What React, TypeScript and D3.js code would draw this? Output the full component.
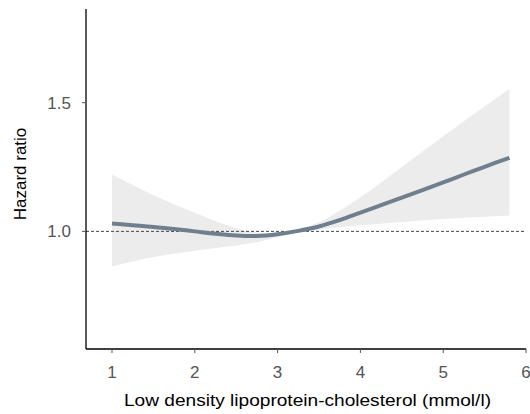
import React from "react";
import * as d3 from "d3";

const ldl = [1.0, 1.25, 1.5, 1.75, 2.0, 2.25, 2.5, 2.75, 3.0, 3.25, 3.5, 3.75, 4.0, 4.25, 4.5, 4.75, 5.0, 5.25, 5.5, 5.8];
const hr = [1.031, 1.024, 1.017, 1.009, 1.0, 0.991, 0.984, 0.982, 0.989, 1.002, 1.019, 1.044, 1.073, 1.102, 1.131, 1.16, 1.19, 1.221, 1.251, 1.286];
const upper = [1.221, 1.18, 1.14, 1.105, 1.072, 1.04, 1.012, 0.995, 0.995, 1.008, 1.035, 1.08, 1.133, 1.19, 1.25, 1.31, 1.37, 1.428, 1.485, 1.553];
const lower = [0.864, 0.883, 0.9, 0.913, 0.925, 0.935, 0.945, 0.958, 0.978, 0.996, 1.007, 1.016, 1.024, 1.03, 1.036, 1.042, 1.048, 1.053, 1.057, 1.062];
const xTicks = [1, 2, 3, 4, 5, 6];
const yTicks = [1.0, 1.5];

const W = 530;
const H = 414;
const left = 86;
const right = 526;
const top = 9;
const bottom = 349;

export default function App() {
  const x = d3.scaleLinear().domain([0.686, 6.0]).range([left, right]);
  const y = d3.scaleLinear().domain([0.543, 1.864]).range([bottom, top]);
  const pts = ldl.map((v, i) => ({ x: v, hr: hr[i], lo: lower[i], hi: upper[i] }));
  const area = d3
    .area<{ x: number; hr: number; lo: number; hi: number }>()
    .x((d) => x(d.x))
    .y0((d) => y(d.lo))
    .y1((d) => y(d.hi))
    .curve(d3.curveCatmullRom);
  const line = d3
    .line<{ x: number; hr: number; lo: number; hi: number }>()
    .x((d) => x(d.x))
    .y((d) => y(d.hr))
    .curve(d3.curveCatmullRom);
  const font = "'Liberation Sans', Arial, sans-serif";
  return (
    <svg
      width={W}
      height={H}
      style={{ position: "absolute", left: 0, top: 0, background: "#fff" }}
      fontFamily={font}
    >
      <path d={area(pts) || ""} fill="#ececec" />
      <line x1={left} x2={right} y1={y(1)} y2={y(1)} stroke="#333" strokeWidth={0.9} strokeDasharray="3,2" />
      <path d={line(pts) || ""} fill="none" stroke="#6f7f8e" strokeWidth={4} />
      <line x1={left} x2={left} y1={top} y2={bottom} stroke="#000" strokeWidth={1.3} />
      <line x1={left} x2={right} y1={bottom} y2={bottom} stroke="#000" strokeWidth={1.3} />
      {yTicks.map((t) => (
        <g key={"y" + t}>
          <line x1={left - 4} x2={left} y1={y(t)} y2={y(t)} stroke="#555" strokeWidth={1} />
          <text x={71} y={y(t)} dy="0.35em" textAnchor="end" fontSize={17} fill="#555">
            {d3.format(".1f")(t)}
          </text>
        </g>
      ))}
      {xTicks.map((t) => (
        <g key={"x" + t}>
          <line x1={x(t)} x2={x(t)} y1={bottom} y2={bottom + 4} stroke="#555" strokeWidth={1} />
          <text x={x(t)} y={372} dy="0.35em" textAnchor="middle" fontSize={17} fill="#555">
            {t}
          </text>
        </g>
      ))}
      <text
        transform={`translate(20,174) rotate(-90)`}
        dy="0.35em"
        textAnchor="middle"
        fontSize={17}
        fill="#000"
      >
        Hazard ratio
      </text>
      <text
        x={124}
        y={400}
        dy="0.35em"
        textAnchor="start"
        fontSize={17}
        fill="#000"
        textLength={367}
        lengthAdjust="spacingAndGlyphs"
      >
        Low density lipoprotein-cholesterol (mmol/l)
      </text>
    </svg>
  );
}
